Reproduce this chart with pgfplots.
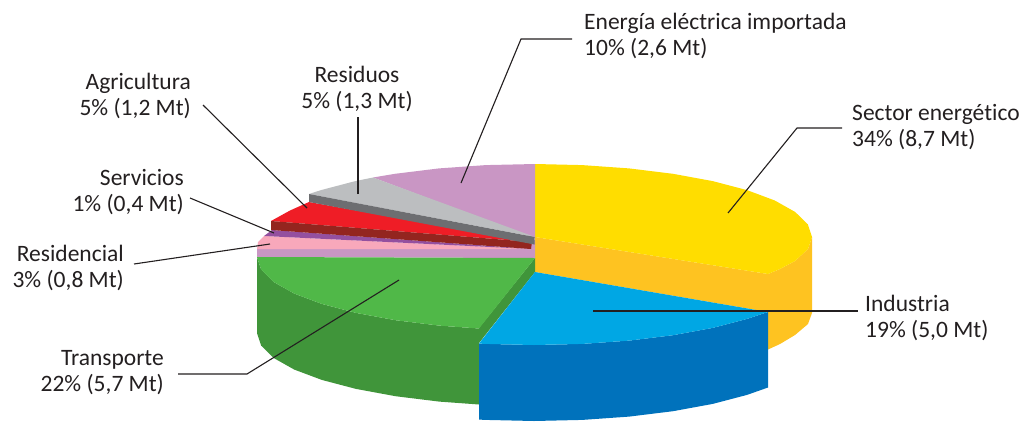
\documentclass[border=0pt]{standalone}
\usepackage{pgfplots}
\usepackage{fontspec}
\setmainfont{Carlito}[Ligatures=NoCommon]
\pgfplotsset{compat=1.18}
\definecolor{amarillo}{HTML}{FFDD00}
\definecolor{naranja}{HTML}{FEC321}
\definecolor{celeste}{HTML}{00A7E4}
\definecolor{azul}{HTML}{0072BC}
\definecolor{verde}{HTML}{50B848}
\definecolor{verdeosc}{HTML}{40953A}
\definecolor{malva}{HTML}{C996C4}
\definecolor{gris}{HTML}{BCBEC0}
\definecolor{grisosc}{HTML}{6D6E71}
\definecolor{rojo}{HTML}{EF1D26}
\definecolor{rojoosc}{HTML}{93251F}
\definecolor{rosa}{HTML}{F8A8BB}
\definecolor{morado}{HTML}{94509F}
\definecolor{texto}{HTML}{231F20}
\newcommand{\etiqueta}[4]{\node[anchor=#1,align=#2,inner sep=0pt,text=texto,font=\fontsize{23.5}{26}\selectfont] at (axis cs:#3) {#4};}
\begin{document}
\begin{tikzpicture}
\begin{axis}[
  scale only axis, width=1024pt, height=421pt,
  xmin=0, xmax=1024, ymin=0, ymax=421, y dir=reverse,
  hide axis, clip=false,
  sector/.style={draw=none, fill=#1, forget plot},
  guia/.style={draw=texto, line width=1.1pt, fill=none, forget plot},
]
\path (axis cs:0,0) rectangle (axis cs:1024,421);
% Sector energético: side, then top
\addplot[sector=naranja] coordinates {(535,237)(768,274)(780,269)(795,261)(808,249)(812,237)(812,313)(808,324)(795,335)(780,344)(768,349.5)(768,312)(535,272)} -- cycle;
\addplot[sector=amarillo] coordinates {(535,164)(582.3,165.1)(629.1,168.4)(673,173.8)(712.7,181.1)(747,190.1)(774.8,200.5)(795.2,212)(807.8,224.3)(812,237)(808,249)(795,261)(780,269)(768,274)(535,237)} -- cycle;
% Energía eléctrica importada
\addplot[sector=malva] coordinates {(535,164)(485.7,165.1)(438.9,168.4)(395,173.8)(373,177.5)(534,238)(535,238)} -- cycle;
% Residencial: side and top
\addplot[sector=malva] coordinates {(257,249)(525,249)(525,240)(535,240)(535,258)(257,257)} -- cycle;
\addplot[sector=rosa] coordinates {(257,249)(258,242)(264,236)(535,249)} -- cycle;
% Servicios
\addplot[sector=morado] coordinates {(264,236)(272,230)(532,249)} -- cycle;
% Agricultura: top and side
\addplot[sector=rojo] coordinates {(309,202)(290,210.5)(271,221)(532,242)} -- cycle;
\addplot[sector=rojoosc] coordinates {(271,221)(271,230)(531,249)(532,242)} -- cycle;
% Residuos: top and side
\addplot[sector=gris] coordinates {(373,177.5)(355.3,181.1)(321,190.1)(309,194)(535,237)} -- cycle;
\addplot[sector=grisosc] coordinates {(309,194)(309,202)(534.5,244.5)(534.5,237)} -- cycle;
% Transporte: rim, inner face, top
\addplot[sector=verdeosc] coordinates {(257,257)(261.2,269.7)(273.7,282)(294.1,293.5)(321.8,303.9)(356,312.9)(395.5,320.2)(439.3,325.6)(479,328.5)(479,404.5)(439.3,401.6)(395.5,396.2)(356,388.9)(321.8,379.9)(294.1,369.5)(273.7,358)(261.2,345.7)(257,333)} -- cycle;
\addplot[sector=verdeosc] coordinates {(535,258)(479,328)(479,343)(535,272)} -- cycle;
\addplot[sector=verde] coordinates {(257,257)(261.2,269.7)(273.7,282)(294.1,293.5)(321.8,303.9)(356,312.9)(395.5,320.2)(439.3,325.6)(479,328.5)(535,258)} -- cycle;
% Industria: rim and top
\addplot[sector=azul] coordinates {(479,343.6)(485.7,343.9)(534,345)(582.3,343.9)(629.1,340.6)(673,335.2)(712.7,327.9)(747,318.9)(768,312)(768,387.5)(747,394.9)(712.7,403.9)(673,411.2)(629.1,416.6)(582.3,419.9)(534,421)(485.7,419.9)(479,419.6)} -- cycle;
\addplot[sector=celeste] coordinates {(535,272)(768,312)(747,318.9)(712.7,327.9)(673,335.2)(629.1,340.6)(582.3,343.9)(534,345)(485.7,343.9)(479,343.6)} -- cycle;
% Leader lines
\addplot[guia] coordinates {(461,183)(521,39)(572,39)};
\addplot[guia] coordinates {(728,213)(797,128)(842,128)};
\addplot[guia] coordinates {(593,311)(858,311)};
\addplot[guia] coordinates {(399,280)(247,374)(178,374)};
\addplot[guia] coordinates {(270,244)(134,264)};
\addplot[guia] coordinates {(274,233)(190,198)};
\addplot[guia] coordinates {(307,208)(203,105)};
\addplot[guia] coordinates {(358,194)(358,117)};
% Labels
\etiqueta{north west}{left}{584,13}{Energía eléctrica importada\\10\% (2,6 Mt)}
\etiqueta{north west}{left}{852,104}{Sector energético\\34\% (8,7 Mt)}
\etiqueta{north west}{left}{865,295}{Industria\\19\% (5,0 Mt)}
\etiqueta{north east}{right}{164,350}{Transporte\\22\% (5,7 Mt)}
\etiqueta{north east}{right}{124,245}{Residencial\\3\% (0,8 Mt)}
\etiqueta{north east}{right}{184,169}{Servicios\\1\% (0,4 Mt)}
\etiqueta{north east}{right}{191,73}{Agricultura\\5\% (1,2 Mt)}
\etiqueta{north}{center}{357,66}{Residuos\\5\% (1,3 Mt)}
\end{axis}
\end{tikzpicture}
\end{document}
